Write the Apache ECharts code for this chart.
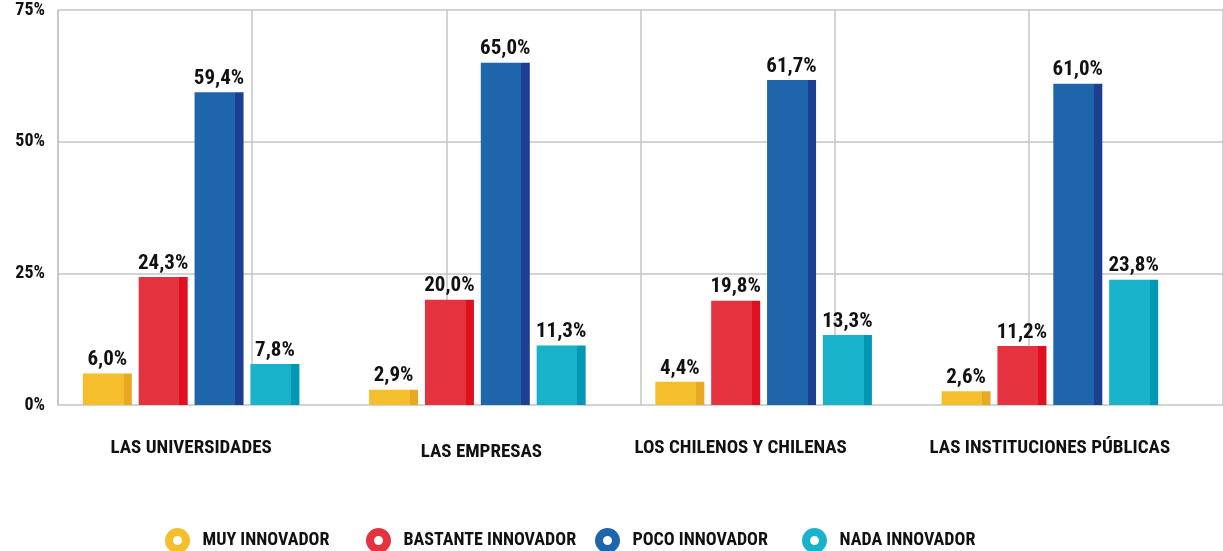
<!DOCTYPE html>
<html>
<head>
<meta charset="utf-8">
<script src="https://cdn.jsdelivr.net/npm/echarts@6/dist/echarts.min.js"></script>
<style>
  html, body { margin: 0; padding: 0; background: #fff; }
  #chart { width: 1223px; height: 551px; }
</style>
</head>
<body>
<div id="chart"></div>
<script>
// datos
var categorias = ['LAS UNIVERSIDADES', 'LAS EMPRESAS', 'LOS CHILENOS Y CHILENAS', 'LAS INSTITUCIONES PÚBLICAS'];
var nombres = ['MUY INNOVADOR', 'BASTANTE INNOVADOR', 'POCO INNOVADOR', 'NADA INNOVADOR'];
var muyInnovador = [6.0, 2.9, 4.4, 2.6];
var bastanteInnovador = [24.3, 20.0, 19.8, 11.2];
var pocoInnovador = [59.4, 65.0, 61.7, 61.0];
var nadaInnovador = [7.8, 11.3, 13.3, 23.8];
var yMin = 0, yMax = 75, yPaso = 25;

// colores: cara frontal / lado oscuro
var colores = ['#F4BE2C', '#E4333F', '#1F65AB', '#18B2CA'];
var lados = ['#E8A822', '#DF1020', '#1D3F91', '#0098B3'];
var leyendaLeft = [165, 366, 595, 802];
// ajuste de las etiquetas de categoria [arriba, derecha, abajo, izquierda]
var etiquetaPadding = [[0, 0, 0, 0], [4, 0, 0, 8], [0, 46, 0, 0], [0, 0, 0, 0]];

var fuente = "'Roboto Condensed', 'DejaVu Sans Condensed', sans-serif";
var gris = '#c4c4c4';

var valores = [muyInnovador, bastanteInnovador, pocoInnovador, nadaInnovador];

var myChart = echarts.init(document.getElementById('chart'));

var series = valores.map(function (v, i) {
    return {
        name: nombres[i],
        type: 'bar',
        xAxisIndex: 1,
        yAxisIndex: 1,
        data: v,
        barWidth: 49,
        barGap: '14%',
        itemStyle: {
            color: {
                type: 'linear', x: 0, y: 0, x2: 1, y2: 0,
                colorStops: [
                    {offset: 0, color: colores[i]},
                    {offset: 0.83, color: colores[i]},
                    {offset: 0.83, color: lados[i]},
                    {offset: 1, color: lados[i]}
                ]
            }
        },
        label: {
            show: true,
            position: 'top',
            distance: 3,
            fontFamily: fuente,
            fontWeight: 'bold',
            fontSize: 21,
            color: '#111',
            formatter: function (p) {
                return p.value.toFixed(1).replace('.', ',') + '%';
            }
        }
    };
});

var leyendas = nombres.map(function (n, i) {
    return {
        left: leyendaLeft[i],
        top: 528,
        padding: 0,
        icon: 'circle',
        itemWidth: 40,
        itemHeight: 17,
        selectedMode: false,
        textStyle: {fontFamily: fuente, fontWeight: 'bold', fontSize: 18, color: '#111'},
        data: [{
            name: n,
            itemStyle: {color: '#fff', borderColor: colores[i], borderWidth: 8}
        }]
    };
});

var option = {
    backgroundColor: '#fff',
    animation: false,
    legend: leyendas,
    grid: [
        {left: 58, right: -8, top: 10, bottom: 146},
        {left: 48, right: 30, top: 10, bottom: 146}
    ],
    xAxis: [
        {
            gridIndex: 0, type: 'value', min: 0, max: 6, interval: 1,
            axisLine: {show: false}, axisTick: {show: false}, axisLabel: {show: false},
            splitLine: {show: true, lineStyle: {color: gris, width: 1.5}}
        },
        {
            gridIndex: 1, type: 'category',
            data: categorias.map(function (c, i) {
                return {value: c, textStyle: {padding: etiquetaPadding[i]}};
            }),
            axisLine: {show: false}, axisTick: {show: false},
            axisLabel: {
                interval: 0, margin: 34,
                fontFamily: fuente, fontWeight: 'bold', fontSize: 19, color: '#111'
            }
        }
    ],
    yAxis: [
        {
            gridIndex: 0, type: 'value', min: yMin, max: yMax, interval: yPaso,
            axisLine: {show: true, lineStyle: {color: gris, width: 1.5}},
            axisTick: {show: false},
            axisLabel: {
                formatter: '{value}%', margin: 13,
                fontFamily: fuente, fontWeight: 'bold', fontSize: 18, color: '#111'
            },
            splitLine: {show: true, lineStyle: {color: gris, width: 1.5}}
        },
        {
            gridIndex: 1, type: 'value', min: yMin, max: yMax, interval: yPaso,
            show: false
        }
    ],
    series: series
};

myChart.setOption(option);
</script>
</body>
</html>
